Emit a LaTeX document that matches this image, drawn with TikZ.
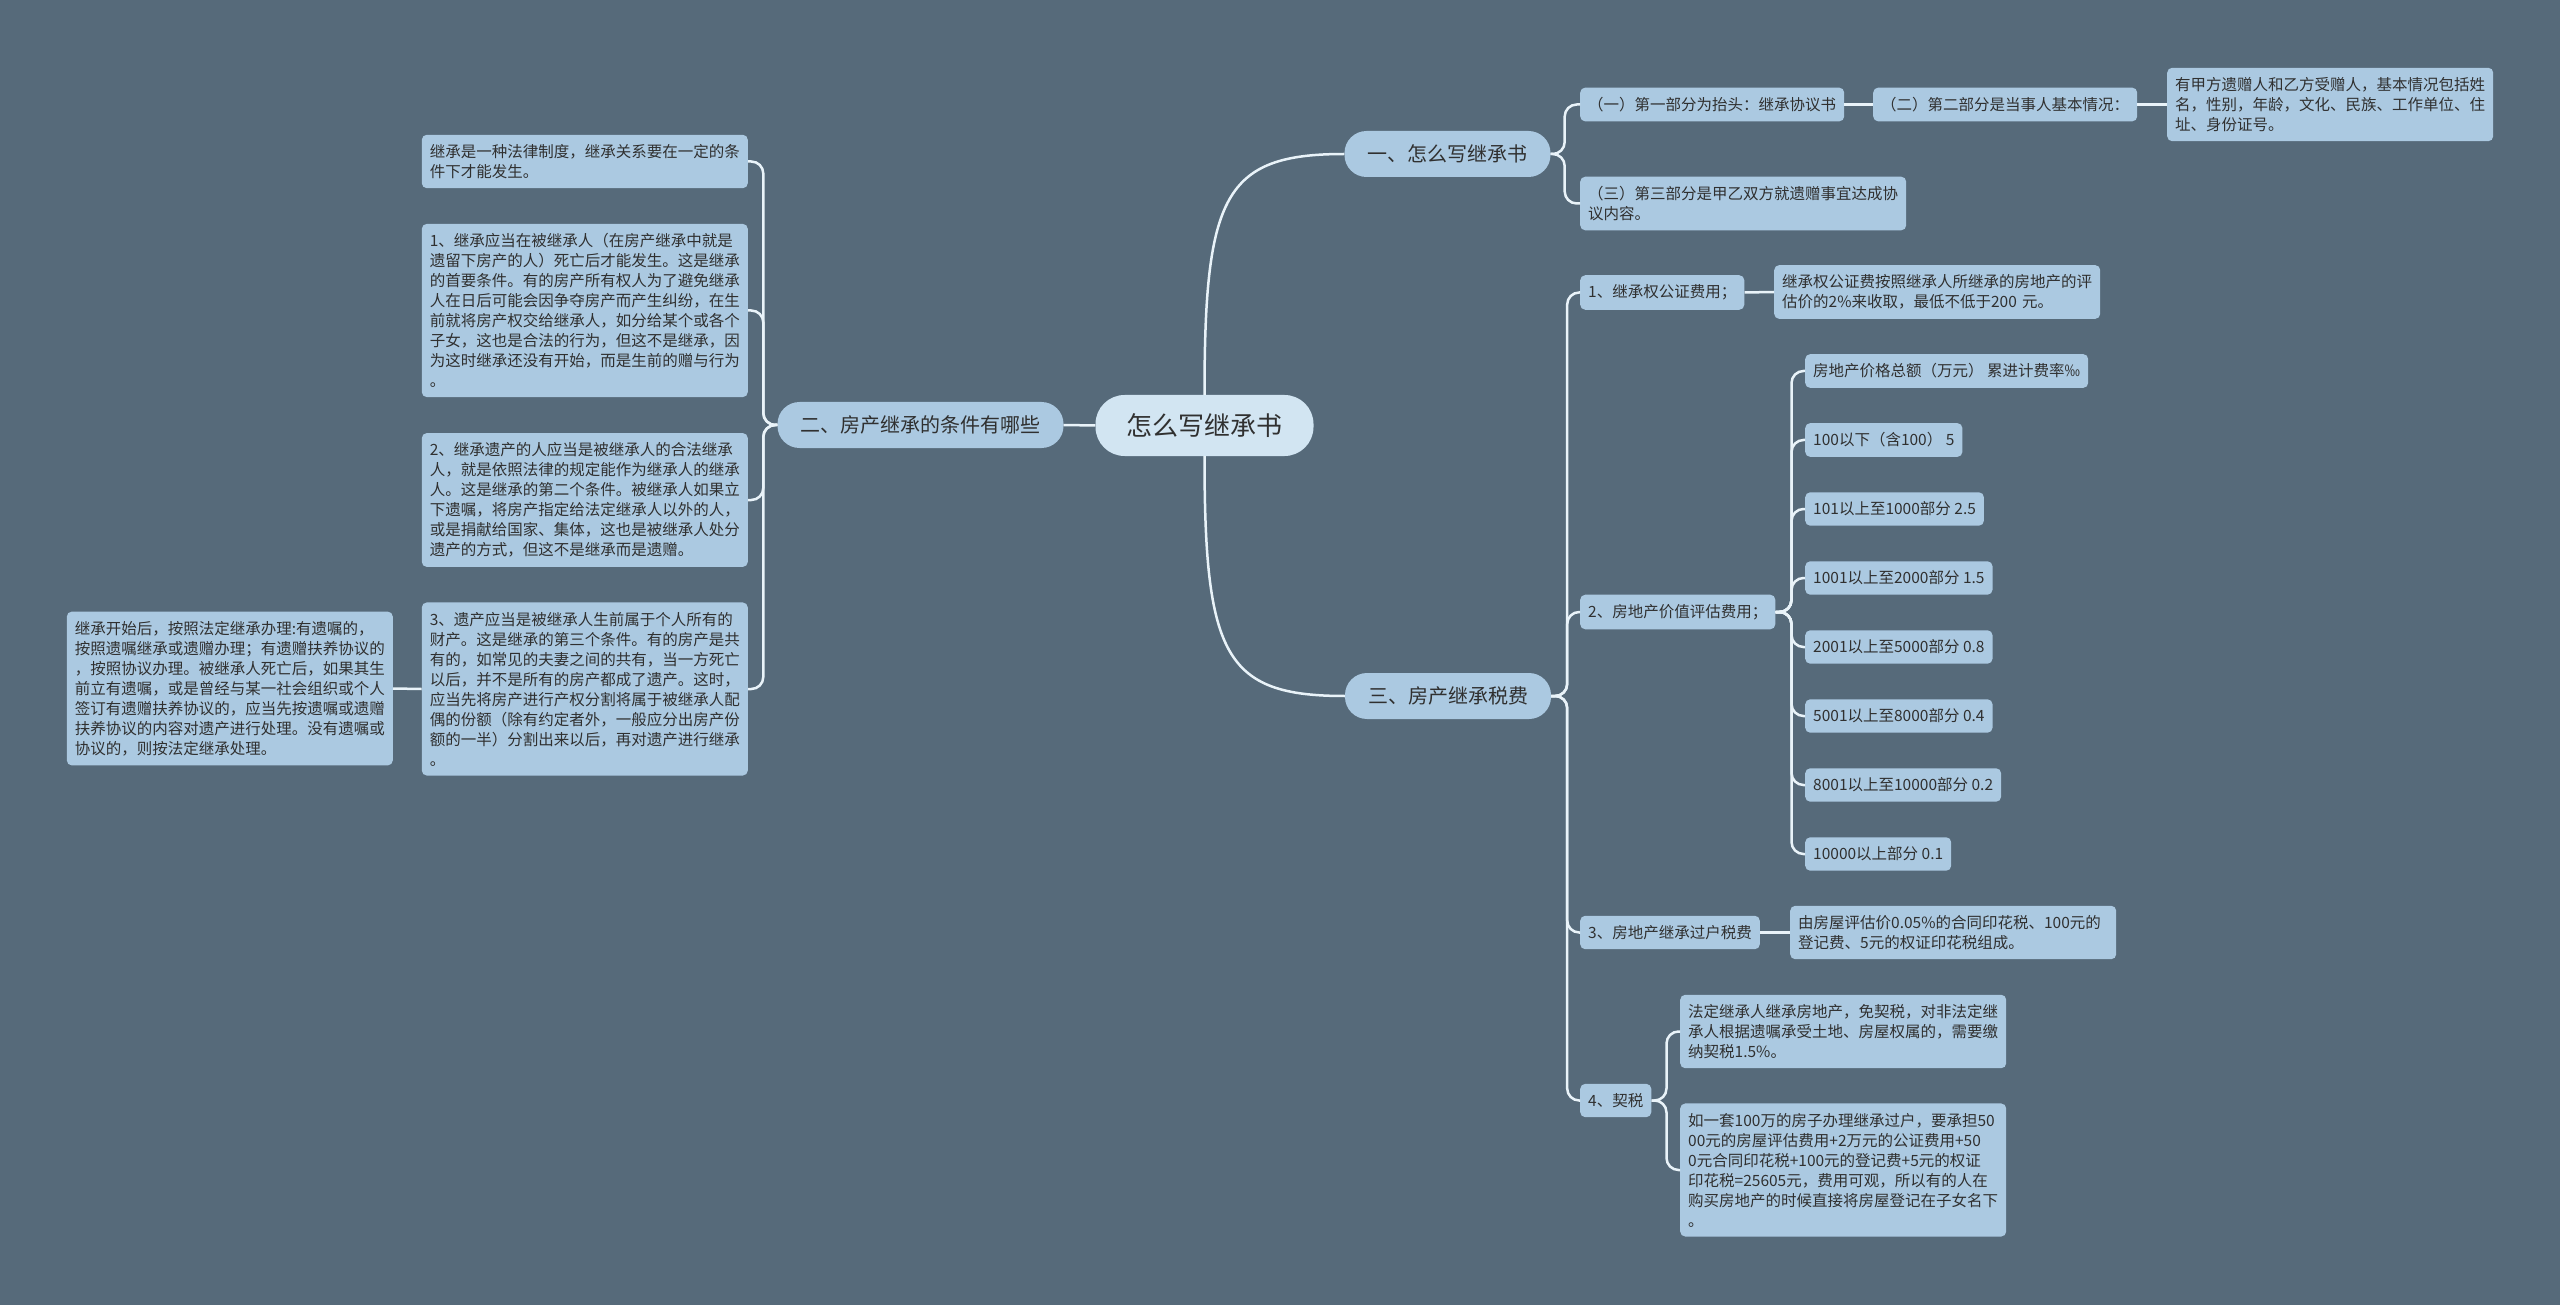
\documentclass[tikz,border=0pt]{standalone}
\usepackage{fontspec}
\setmainfont{Noto Sans CJK SC}
\definecolor{bgslate}{HTML}{566A7A}
\definecolor{leafblue}{HTML}{ABC9E1}
\definecolor{rootblue}{HTML}{D2E5F2}
\definecolor{inkgray}{HTML}{303030}
\definecolor{wirewhite}{HTML}{E9F3F9}
\begin{document}
\begin{tikzpicture}[x=1pt,y=-1pt,
  leaf/.style={fill=leafblue,text=inkgray,rounded corners=5pt,inner xsep=8pt,inner ysep=9.5pt,font=\fontsize{15.5}{20}\selectfont},
  para/.style={leaf,text width=310pt,align=left},
  topic/.style={fill=leafblue,text=inkgray,rounded corners=22pt,inner xsep=23pt,minimum height=46pt,font=\fontsize{20}{24}\selectfont},
  rootnode/.style={fill=rootblue,text=inkgray,rounded corners=29pt,inner xsep=31pt,minimum height=61pt,font=\fontsize{26}{30}\selectfont},
  wire/.style={draw=wirewhite,line width=2.5pt},
  fork/.style={wire,rounded corners=12pt}]
  \fill[bgslate] (0,0) rectangle (2560,1305);
  \useasboundingbox (0,0) rectangle (2560,1305);

  \node[rootnode] (root) at (1204.5,425.5) {怎么写继承书};
  \node[topic] (howto) at (1447.5,154) {一、怎么写继承书};
  \node[topic] (cond) at (920.5,425) {二、房产继承的条件有哪些};
  \node[topic] (tax) at (1448,696) {三、房产继承税费};

  \node[leaf,anchor=west] (head1) at (1580,104.5) {（一）第一部分为抬头：继承协议书};
  \node[leaf,anchor=west] (head2) at (1873,104.5) {（二）第二部分是当事人基本情况：};
  \node[para,anchor=west] (head2d) at (2167,104.5) {有甲方遗赠人和乙方受赠人，基本情况包括姓\\名，性别，年龄，文化、民族、工作单位、住\\址、身份证号。};
  \node[para,anchor=west] (head3) at (1580,203.5) {（三）第三部分是甲乙双方就遗赠事宜达成协\\议内容。};

  \node[leaf,anchor=west] (fee1) at (1580,292.5) {1、继承权公证费用；};
  \node[para,anchor=west] (fee1d) at (1774,292) {继承权公证费按照继承人所继承的房地产的评\\估价的2\%来收取，最低不低于200 元。};
  \node[leaf,anchor=west] (fee2) at (1580,612) {2、房地产价值评估费用；};
  \foreach \t [count=\i from 0] in {房地产价格总额（万元） 累进计费率‰,100以下（含100） 5,101以上至1000部分 2.5,1001以上至2000部分 1.5,2001以上至5000部分 0.8,5001以上至8000部分 0.4,8001以上至10000部分 0.2,10000以上部分 0.1}{
    \node[leaf,anchor=west] (rate\i) at (1805,371+69*\i) {\t};
    \draw[fork] (fee2.east) -- ++(16,0) |- (rate\i.west);
  }
  \node[leaf,anchor=west] (fee3) at (1580,932.5) {3、房地产继承过户税费};
  \node[para,anchor=west] (fee3d) at (1790,932.5) {由房屋评估价0.05\%的合同印花税、100元的\\登记费、5元的权证印花税组成。};
  \node[leaf,anchor=west] (fee4) at (1580,1100.5) {4、契税};
  \node[para,anchor=west] (fee4a) at (1680,1031.5) {法定继承人继承房地产，免契税，对非法定继\\承人根据遗嘱承受土地、房屋权属的，需要缴\\纳契税1.5\%。};
  \node[para,anchor=west] (fee4b) at (1680,1170) {如一套100万的房子办理继承过户，要承担50\\00元的房屋评估费用+2万元的公证费用+50\\0元合同印花税+100元的登记费+5元的权证\\印花税=25605元，费用可观，所以有的人在\\购买房地产的时候直接将房屋登记在子女名下\\。};

  \node[para,anchor=east] (cond0) at (748,161.5) {继承是一种法律制度，继承关系要在一定的条\\件下才能发生。};
  \node[para,anchor=east] (cond1) at (748,310.5) {1、继承应当在被继承人（在房产继承中就是\\遗留下房产的人）死亡后才能发生。这是继承\\的首要条件。有的房产所有权人为了避免继承\\人在日后可能会因争夺房产而产生纠纷，在生\\前就将房产权交给继承人，如分给某个或各个\\子女，这也是合法的行为，但这不是继承，因\\为这时继承还没有开始，而是生前的赠与行为\\。};
  \node[para,anchor=east] (cond2) at (748,500) {2、继承遗产的人应当是被继承人的合法继承\\人，就是依照法律的规定能作为继承人的继承\\人。这是继承的第二个条件。被继承人如果立\\下遗嘱，将房产指定给法定继承人以外的人，\\或是捐献给国家、集体，这也是被继承人处分\\遗产的方式，但这不是继承而是遗赠。};
  \node[para,anchor=east] (cond3) at (748,689) {3、遗产应当是被继承人生前属于个人所有的\\财产。这是继承的第三个条件。有的房产是共\\有的，如常见的夫妻之间的共有，当一方死亡\\以后，并不是所有的房产都成了遗产。这时，\\应当先将房产进行产权分割将属于被继承人配\\偶的份额（除有约定者外，一般应分出房产份\\额的一半）分割出来以后，再对遗产进行继承\\。};
  \node[para,anchor=east] (cond3d) at (393,688.5) {继承开始后，按照法定继承办理:有遗嘱的，\\按照遗嘱继承或遗赠办理；有遗赠扶养协议的\\，按照协议办理。被继承人死亡后，如果其生\\前立有遗嘱，或是曾经与某一社会组织或个人\\签订有遗赠扶养协议的，应当先按遗嘱或遗赠\\扶养协议的内容对遗产进行处理。没有遗嘱或\\协议的，则按法定继承处理。};

  \draw[wire] (root.north) .. controls +(0,-200) and +(-120,0) .. (howto.west);
  \draw[wire] (root.south) .. controls +(0,200) and +(-120,0) .. (tax.west);
  \draw[wire] (root.west) -- (cond.east);
  \draw[fork] (howto.east) -- ++(14,0) |- (head1.west);
  \draw[fork] (howto.east) -- ++(14,0) |- (head3.west);
  \draw[wire] (head1.east) -- (head2.west);
  \draw[wire] (head2.east) -- (head2d.west);
  \foreach \n in {fee1,fee2,fee3,fee4}
    \draw[fork] (tax.east) -- ++(16,0) |- (\n.west);
  \draw[wire] (fee1.east) -- (fee1d.west);
  \draw[wire] (fee3.east) -- (fee3d.west);
  \draw[fork] (fee4.east) -- ++(15,0) |- (fee4a.west);
  \draw[fork] (fee4.east) -- ++(15,0) |- (fee4b.west);
  \foreach \n in {cond0,cond1,cond2,cond3}
    \draw[fork] (cond.west) -- ++(-14,0) |- (\n.east);
  \draw[wire] (cond3.west) -- (cond3d.east);
\end{tikzpicture}
\end{document}
